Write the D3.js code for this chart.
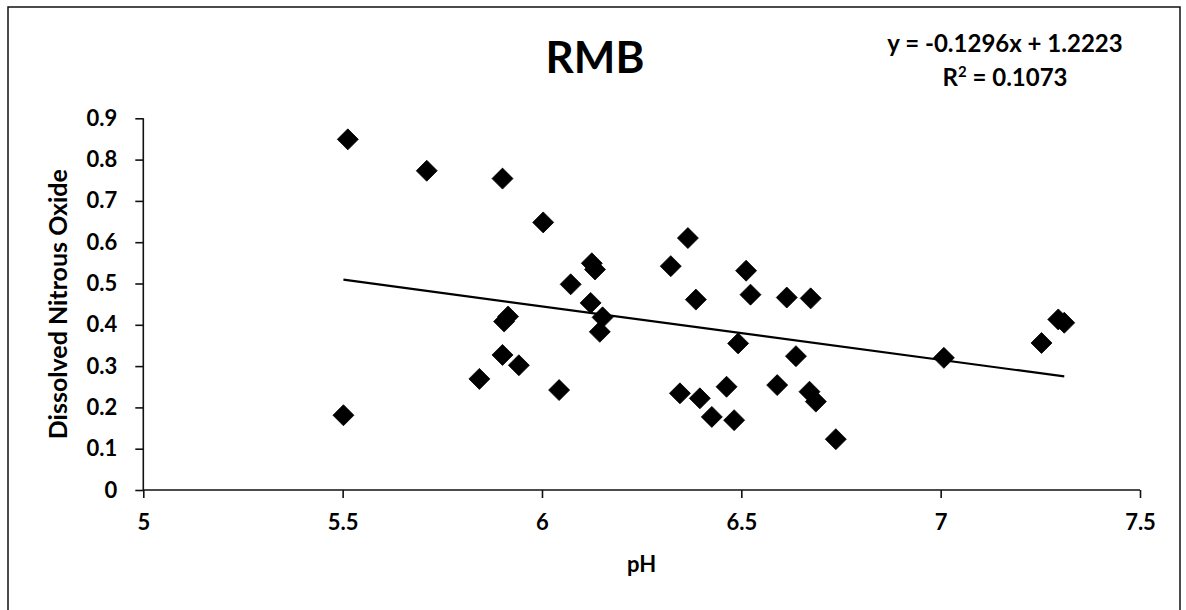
<!DOCTYPE html>
<html>
<head>
<meta charset="utf-8">
<script src="https://cdn.jsdelivr.net/npm/d3@7"></script>
<style>
  html, body { margin: 0; padding: 0; background: #fff; }
  svg { display: block; }
  text { font-family: Lato, "Open Sans", sans-serif; fill: #000; }
</style>
</head>
<body>
<svg id="chart" width="1186" height="610"></svg>
<script>
// ---- data ----
const chartTitle = "RMB";
const xTitle = "pH";
const yTitle = "Dissolved Nitrous Oxide";
const xTicks = [5, 5.5, 6, 6.5, 7, 7.5];
const yTicks = [0, 0.1, 0.2, 0.3, 0.4, 0.5, 0.6, 0.7, 0.8, 0.9];
const pH = [5.513, 5.502, 5.711, 5.901, 6.003, 6.125, 6.133, 6.072, 6.122, 6.152,
            6.145, 5.905, 5.915, 5.843, 5.901, 5.942, 6.043, 6.366, 6.323, 6.386,
            6.512, 6.523, 6.614, 6.674, 6.492, 6.637, 6.346, 6.396, 6.463, 6.426,
            6.482, 6.590, 6.671, 6.687, 6.737, 7.008, 7.295, 7.310, 7.253];
const n2o = [0.849, 0.181, 0.773, 0.754, 0.648, 0.549, 0.534, 0.498, 0.453, 0.418,
             0.383, 0.408, 0.420, 0.269, 0.327, 0.302, 0.242, 0.610, 0.542, 0.461,
             0.531, 0.473, 0.466, 0.464, 0.355, 0.324, 0.234, 0.222, 0.250, 0.177,
             0.169, 0.254, 0.238, 0.214, 0.123, 0.320, 0.413, 0.405, 0.356];
const slope = -0.1296;
const intercept = 1.2223;
const eqText = "y = -0.1296x + 1.2223";
const r2Value = "0.1073";

// ---- layout ----
const svg = d3.select("#chart");
const plot = { left: 143.3, right: 1140, top: 118.3, bottom: 490 };

// frame
svg.append("rect")
  .attr("x", 8).attr("y", 7).attr("width", 1172).attr("height", 620)
  .attr("fill", "none").attr("stroke", "#111").attr("stroke-width", 1.5);

const x = d3.scaleLinear().domain([5, 7.5]).range([plot.left, plot.right]);
const y = d3.scaleLinear().domain([0, 0.9]).range([plot.bottom, plot.top]);

// axes
const xAxis = svg.append("g")
  .attr("transform", `translate(0,${plot.bottom})`)
  .call(d3.axisBottom(x).tickValues(xTicks).tickSize(8).tickPadding(16)
        .tickFormat(d => d3.format("")(d)));
const yAxis = svg.append("g")
  .attr("transform", `translate(${plot.left},0)`)
  .call(d3.axisLeft(y).tickValues(yTicks).tickSize(8).tickPadding(18)
        .tickFormat(d => d3.format("")(d)));

[xAxis, yAxis].forEach(g => {
  g.select(".domain").attr("stroke", "#111").attr("stroke-width", 1.6);
  g.selectAll(".tick line").attr("stroke", "#111").attr("stroke-width", 1.6);
  g.selectAll(".tick text")
    .style("font-family", "Lato, 'Open Sans', sans-serif")
    .style("font-size", "22px").style("font-weight", "700").attr("fill", "#000");
});
xAxis.select(".domain").attr("d", `M${plot.left},0H${plot.right}`);
yAxis.select(".domain").attr("d", `M0,${plot.top}V${plot.bottom}`);

// trendline
const xMin = d3.min(pH), xMax = d3.max(pH);
svg.append("line")
  .attr("x1", x(xMin)).attr("y1", y(slope * xMin + intercept))
  .attr("x2", x(xMax)).attr("y2", y(slope * xMax + intercept))
  .attr("stroke", "#000").attr("stroke-width", 2.2);

// points
const diamond = "M0,-10.5L10.5,0L0,10.5L-10.5,0Z";
svg.append("g").selectAll("path")
  .data(pH.map((v, i) => [v, n2o[i]]))
  .join("path")
  .attr("d", diamond)
  .attr("transform", d => `translate(${x(d[0])},${y(d[1])})`)
  .attr("fill", "#000").attr("stroke", "#000").attr("stroke-width", 0.8)
  .attr("stroke-linejoin", "round");

// title
svg.append("text")
  .attr("x", 595).attr("y", 73)
  .attr("text-anchor", "middle")
  .style("font-size", "44px").style("font-weight", "700")
  .text(chartTitle);

// equation
svg.append("text")
  .attr("x", 1005).attr("y", 52)
  .attr("text-anchor", "middle")
  .style("font-size", "24px").style("font-weight", "700")
  .text(eqText);
const r2 = svg.append("text")
  .attr("x", 1005).attr("y", 86)
  .attr("text-anchor", "middle")
  .style("font-size", "24px").style("font-weight", "700");
r2.append("tspan").text("R");
r2.append("tspan").attr("dy", -9).style("font-size", "15px").text("2");
r2.append("tspan").attr("dy", 9).text(" = " + r2Value);

// axis titles
svg.append("text")
  .attr("x", (plot.left + plot.right) / 2).attr("y", 572)
  .attr("text-anchor", "middle")
  .style("font-size", "22px").style("font-weight", "700")
  .text(xTitle);
svg.append("text")
  .attr("transform", `translate(67,${(plot.top + plot.bottom) / 2}) rotate(-90)`)
  .attr("text-anchor", "middle")
  .style("font-size", "25px").style("font-weight", "700")
  .text(yTitle);
</script>
</body>
</html>
